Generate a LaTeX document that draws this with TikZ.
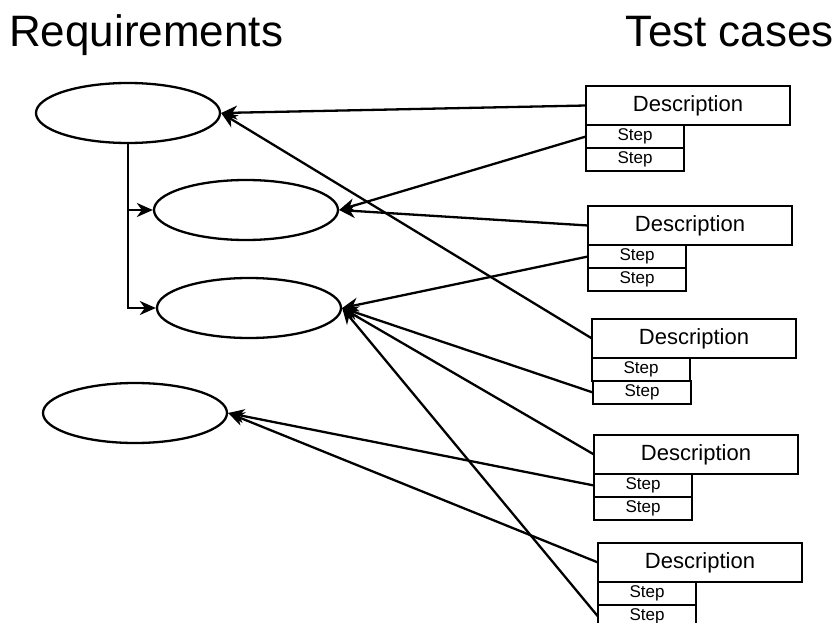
\documentclass[tikz,border=0pt]{standalone}
\usepackage{fontspec}
\setmainfont{Liberation Sans}
\usetikzlibrary{arrows.meta,shapes,positioning}

\begin{document}
\begin{tikzpicture}[x=1pt,y=-1pt,line width=2.3pt,>={Stealth[length=16pt,width=14pt,inset=5pt]}]
        \tikzset{req/.style={ellipse, draw, minimum width=184pt, minimum height=60pt, inner sep=0pt},
                 desc/.style={rectangle, draw, anchor=north west, minimum width=204pt, minimum height=39pt,
                              outer sep=0pt, font=\fontsize{22}{24}\selectfont},
                 stepbox/.style={rectangle, draw, anchor=north west, minimum width=98pt, minimum height=23pt,
                              outer sep=0pt, inner sep=0pt, font=\fontsize{17}{18}\selectfont},
                 title/.style={inner sep=0pt, font=\fontsize{44}{48}\selectfont}}
        \useasboundingbox (0,0) rectangle (840,623);

        \node[title, anchor=base west] (reqs)  at (8,47)   {Requirements};
        \node[title, anchor=base east] (tests) at (835,47) {Test cases};

        % requirements
        \node[req] (r1) at (128,113) {};
        \node[req] (r2) at (246,210) {};
        \node[req] (r3) at (249,308) {};
        \node[req] (r4) at (135,413) {};

        % test cases with their steps
        \node[desc] (d1) at (586,86)  {Description};
        \node[stepbox] (s11) at (d1.south west) {Step\hspace{10pt}};
        \node[stepbox] (s12) at (s11.south west) {Step\hspace{10pt}};

        \node[desc] (d2) at (588,206) {Description};
        \node[stepbox] (s21) at (d2.south west) {Step\hspace{10pt}};
        \node[stepbox] (s22) at (s21.south west) {Step\hspace{10pt}};

        \node[desc] (d3) at (592,319) {Description};
        \node[stepbox] (s31) at (d3.south west) {Step\hspace{10pt}};
        \node[stepbox] (s32) at ([xshift=1pt]s31.south west) {Step\hspace{10pt}};

        \node[desc] (d4) at (594,435) {Description};
        \node[stepbox] (s41) at (d4.south west) {Step\hspace{10pt}};
        \node[stepbox] (s42) at (s41.south west) {Step\hspace{10pt}};

        \node[desc] (d5) at (598,543) {Description};
        \node[stepbox] (s51) at (d5.south west) {Step\hspace{10pt}};
        \node[stepbox] (s52) at (s51.south west) {Step\hspace{10pt}};

        % refinement of r1
        \draw[->] (r1.south) |- (r2.west);
        \draw[->] (r1.south) |- (r3.west);

        % coverage links
        \path[->] (d1.west)  edge (r1.east)
                  (d3.west)  edge (r1.east)
                  (s11.west) edge (r2.east)
                  (d2.west)  edge (r2.east)
                  (s21.west) edge (r3.east)
                  (s32.west) edge (r3.east)
                  (d4.west)  edge (r3.east)
                  (s52.west) edge (r3.east)
                  (s41.west) edge (r4.east)
                  (d5.west)  edge (r4.east);
\end{tikzpicture}
\end{document}
